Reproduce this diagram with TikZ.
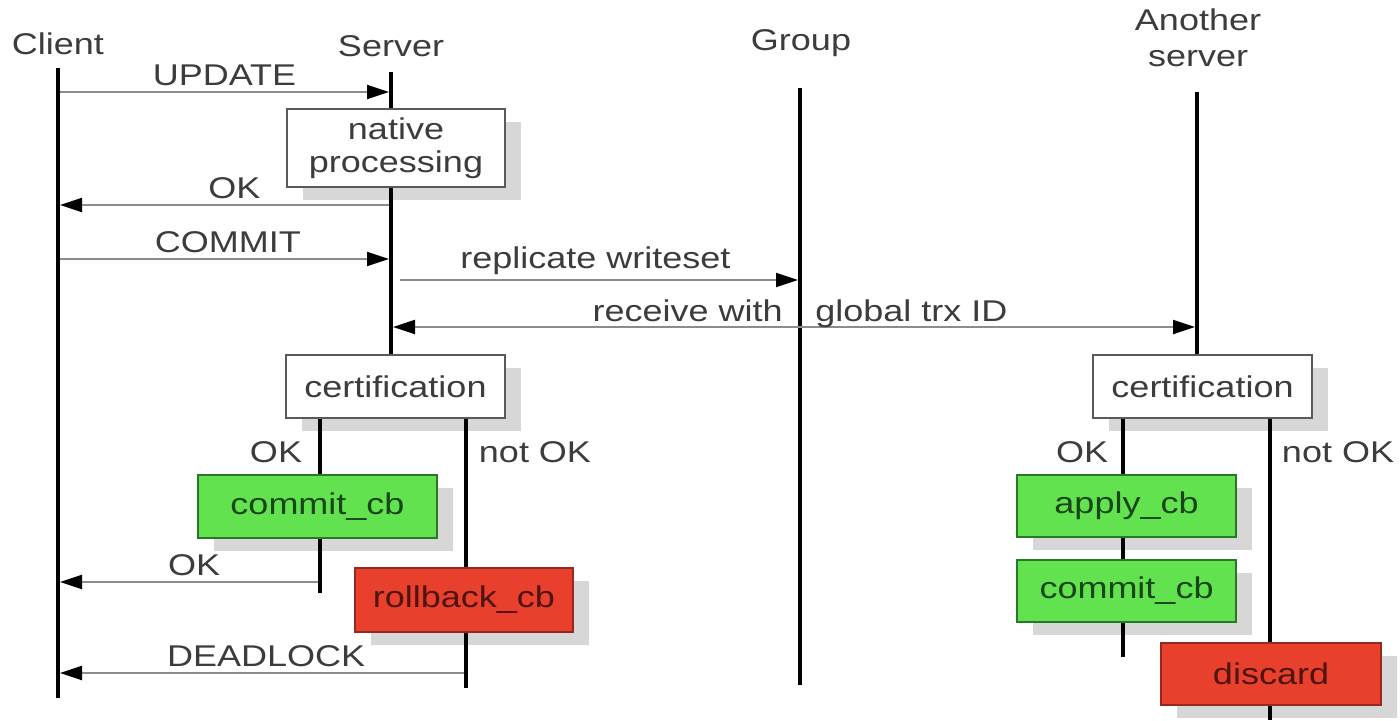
\documentclass[tikz,border=0pt]{standalone}
\usepackage{fontspec}
\setmainfont{Liberation Sans}[FakeStretch=1.2]
\usetikzlibrary{arrows.meta,shadows}
\definecolor{txt}{RGB}{60,60,60}
\definecolor{msgc}{RGB}{140,140,140}
\definecolor{boxb}{RGB}{90,90,90}
\definecolor{gfill}{RGB}{98,226,78}
\definecolor{gdraw}{RGB}{40,120,40}
\definecolor{gtxt}{RGB}{25,70,25}
\definecolor{rfill}{RGB}{232,64,44}
\definecolor{rdraw}{RGB}{150,40,30}
\definecolor{rtxt}{RGB}{80,20,15}
\definecolor{shade}{RGB}{215,215,215}
\tikzset{
  every node/.style={font=\fontsize{15pt}{17pt}\selectfont, text=txt},
  life/.style={line width=2pt, black},
  msg/.style={line width=1.1pt, msgc, -{Triangle[length=11pt,width=7pt]}, arrows={[black]}},
  msgb/.style={line width=1.1pt, msgc, {Triangle[length=11pt,width=7pt]}-{Triangle[length=11pt,width=7pt]}, arrows={[black]}},
  procbox/.style={draw=boxb, line width=0.8pt, fill=white, inner sep=0pt,
     drop shadow={shadow xshift=8pt, shadow yshift=-6.5pt, fill=shade, opacity=1}},
  okbox/.style={procbox, draw=gdraw, fill=gfill, text=gtxt},
  failbox/.style={procbox, draw=rdraw, fill=rfill, text=rtxt},
}
\begin{document}
\begin{tikzpicture}[x=0.5pt, y=-0.5pt]
\useasboundingbox (0,0) rectangle (1400,720);
% lifeline positions
\coordinate (client) at (58,0);
\coordinate (server) at (391,0);
\coordinate (group) at (800,0);
\coordinate (another) at (1197,0);
\coordinate (okx) at (320,0);
\coordinate (nokx) at (466,0);
\coordinate (aokx) at (1123,0);
\coordinate (anokx) at (1270,0);
% headers
\node (hclient) at (58,44) {Client};
\node (hserver) at (391,46) {Server};
\node (hgroup) at (801,43) {Group};
\node[align=center, font=\fontsize{15pt}{18pt}\selectfont] (hanother) at (1198,38) {Another\\server};
% boxes
\node[procbox, minimum width=109pt, minimum height=39pt, align=center, font=\fontsize{15pt}{16.5pt}\selectfont] (native) at (396,148) {native\\processing};
\node[procbox, minimum width=109.5pt, minimum height=31.5pt] (cert1) at (395.5,386.5) {certification};
\node[okbox, minimum width=119.5pt, minimum height=31.5pt] (commit1) at (317.5,506.5) {commit\_cb};
\node[failbox, minimum width=109pt, minimum height=32pt] (rollback) at (464,600) {rollback\_cb};
\node[procbox, minimum width=109.5pt, minimum height=31.5pt] (cert2) at (1202.5,386.5) {certification};
\node[okbox, minimum width=109.5pt, minimum height=31pt] (apply) at (1126.5,506) {apply\_cb};
\node[okbox, minimum width=109.5pt, minimum height=31pt] (commit2) at (1126.5,591) {commit\_cb};
\node[failbox, minimum width=110pt, minimum height=31pt] (discard) at (1271,674) {discard};
% lifelines
\draw[life] (client |- 0,68) -- (client |- 0,698);
\draw[life] (server |- 0,72) -- (native.north -| server);
\draw[life] (native.south -| server) -- (cert1.north -| server);
\draw[life] (group |- 0,88) -- (group |- 0,685);
\draw[life] (another |- 0,92) -- (cert2.north -| another);
% branches (server)
\draw[life] (cert1.south -| okx) -- (commit1.north -| okx);
\draw[life] (commit1.south -| okx) -- (okx |- 0,593);
\draw[life] (cert1.south -| nokx) -- (rollback.north -| nokx);
\draw[life] (rollback.south -| nokx) -- (nokx |- 0,688);
% branches (another server)
\draw[life] (cert2.south -| aokx) -- (apply.north -| aokx);
\draw[life] (apply.south -| aokx) -- (commit2.north -| aokx);
\draw[life] (commit2.south -| aokx) -- (aokx |- 0,657);
\draw[life] (cert2.south -| anokx) -- (discard.north -| anokx);
\draw[life] (discard.south -| anokx) -- (anokx |- 0,720);
% branch labels
\node (lok1) at (276,452) {OK};
\node (lnok1) at (535,452) {not OK};
\node (lok2) at (1082,452) {OK};
\node (lnok2) at (1338,452) {not OK};
% messages
\draw[msg, shorten <=1pt, shorten >=1pt] (client |- 0,92) -- node[above=-1pt] (lupdate) {UPDATE} (server |- 0,92);
\draw[msg, shorten <=1pt, shorten >=1pt] (server |- 0,205) -- node[above=-1pt, pos=0.47] (lok) {OK} (client |- 0,205);
\draw[msg, shorten <=1pt, shorten >=1pt] (client |- 0,259) -- node[above=-1pt, pos=0.51] (lcommit) {COMMIT} (server |- 0,259);
\draw[msg, shorten <=4.5pt, shorten >=1pt] (server |- 0,280) -- node[above=-1pt, pos=0.5] (lrepl) {replicate writeset} (group |- 0,280);
\draw[msgb, shorten <=1pt, shorten >=1pt] (server |- 0,327) -- (another |- 0,327);
\node[anchor=base east, inner sep=1pt] (lrecv) at (785,321) {receive with};
\node[anchor=base west, inner sep=1pt] (lgtid) at (813,321) {global trx ID};
\draw[msg, shorten <=1pt, shorten >=1pt] (okx |- 0,582) -- node[above=-1pt, pos=0.48] (lok3) {OK} (client |- 0,582);
\draw[msg, shorten <=1pt, shorten >=1pt] (nokx |- 0,673) -- node[above=-1pt, pos=0.49] (ldead) {DEADLOCK} (client |- 0,673);
\end{tikzpicture}
\end{document}
